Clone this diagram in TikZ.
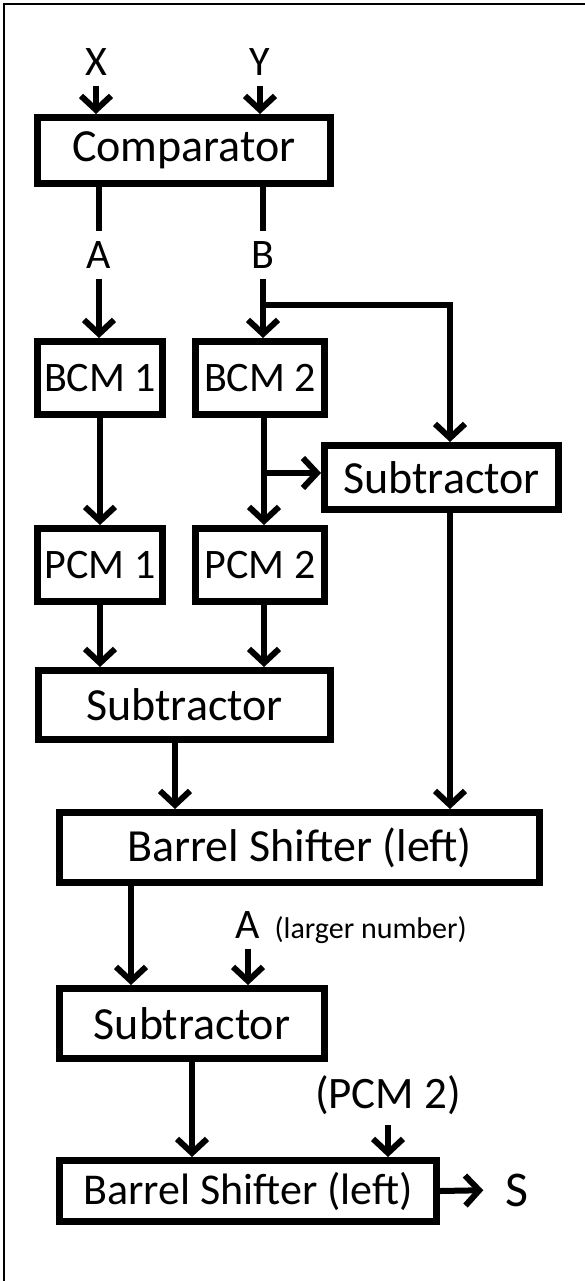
\documentclass[tikz,border=0pt]{standalone}
\usepackage{fontspec}
\setmainfont{Carlito}
\usetikzlibrary{arrows.meta}

\begin{document}
\begin{tikzpicture}[x=1pt, y=-1pt,
		block/.style = {draw, line width=7pt, inner sep=0pt, font=\fontsize{46}{50}\selectfont},
		small/.style = {block, font=\fontsize{42}{46}\selectfont},
		lbl/.style = {inner sep=10pt, font=\fontsize{42}{46}\selectfont},
		wire/.style = {line width=6pt},
		arr/.style = {line width=6pt, -{Straight Barb[length=14pt,width=30pt]}}]
		\useasboundingbox (0,0) rectangle (585,1281);
		\draw[line width=2.5pt] (4,1281) -- (4,4) -- (585,4);
		% blocks
		\node[block, minimum width=293pt, minimum height=66pt] (cmp) at (184,150.5) {Comparator};
		\node[small, minimum width=125pt, minimum height=73pt] (bcm1) at (100,378) {BCM 1};
		\node[small, minimum width=129pt, minimum height=73pt] (bcm2) at (260,378) {BCM 2};
		\node[block, minimum width=234pt, minimum height=64pt] (subR) at (441.5,477.5) {Subtractor};
		\node[small, minimum width=125pt, minimum height=73pt] (pcm1) at (100,565) {PCM 1};
		\node[small, minimum width=129pt, minimum height=73pt] (pcm2) at (260,565) {PCM 2};
		\node[block, minimum width=292pt, minimum height=69pt] (subM) at (184.5,705) {Subtractor};
		\node[block, minimum width=480pt, minimum height=70pt] (bsh1) at (299.5,847.5) {Barrel Shifter (left)};
		\node[block, minimum width=265pt, minimum height=70pt] (subB) at (192,1023.5) {Subtractor};
		\node[block, font=\fontsize{44}{48}\selectfont, minimum width=377pt, minimum height=61pt] (bsh2) at (248,1191) {Barrel Shifter (left)};
		% labels
		\node[lbl] (X) at (96,62) {X};
		\node[lbl] (Y) at (260,62) {Y};
		\node[lbl] (A) at (99,255) {A};
		\node[lbl] (B) at (263,255) {B};
		\node[lbl] (Al) at (248,925) {A};
		\node[anchor=base west, inner sep=0pt, font=\fontsize{30}{33}\selectfont] (note) at ([xshift=4pt]Al.base east) {(larger number)};
		\node[lbl, font=\fontsize{45}{49}\selectfont] (pcmin) at (388,1095) {(PCM 2)};
		\node[lbl, font=\fontsize{50}{54}\selectfont] (S) at (517,1190) {S};
		% columns and forks
		\coordinate (bcol) at (264,0);
		\coordinate (rcol) at (450,0);
		\coordinate (mcol) at (175,0);
		\coordinate (lcol) at (131,0);
		\coordinate (bfork) at (B.south |- 0,305);
		\coordinate (pfork) at (bcol |- 0,473);
		% connectors
		\draw[arr] (X.south) -- (X.south |- cmp.north);
		\draw[arr] (Y.south) -- (Y.south |- cmp.north);
		\draw[wire] (A.north |- cmp.south) -- (A.north);
		\draw[wire] (B.north |- cmp.south) -- (B.north);
		\draw[arr] (A.south) -- (A.south |- bcm1.north);
		\draw[arr] (B.south) -- (B.south |- bcm2.north);
		\draw[arr] (bfork) -- (bfork -| rcol) -- (rcol |- subR.north);
		\draw[arr] (bcm1.south) -- (bcm1.south |- pcm1.north);
		\draw[arr] (bcol |- bcm2.south) -- (bcol |- pcm2.north);
		\draw[arr] (pfork) -- (pfork -| subR.west);
		\draw[arr] (pcm1.south) -- (pcm1.south |- subM.north);
		\draw[arr] (bcol |- pcm2.south) -- (bcol |- subM.north);
		\draw[arr] (mcol |- subM.south) -- (mcol |- bsh1.north);
		\draw[arr] (rcol |- subR.south) -- (rcol |- bsh1.north);
		\draw[arr] (lcol |- bsh1.south) -- (lcol |- subB.north);
		\draw[arr] (Al.south) -- (Al.south |- subB.north);
		\draw[arr] (subB.south) -- (subB.south |- bsh2.north);
		\draw[arr] (pcmin.south) -- (pcmin.south |- bsh2.north);
		\draw[arr, shorten >=12pt] (bsh2.east) -- (S.west);
	\end{tikzpicture}
\end{document}
